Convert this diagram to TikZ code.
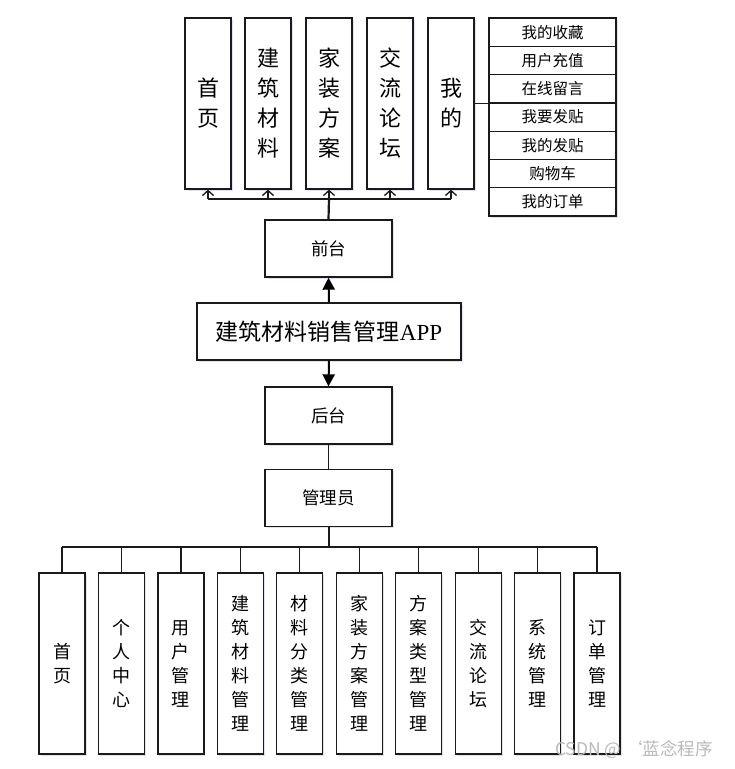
\documentclass[tikz,border=0pt]{standalone}
\usepackage{fontspec}
\setmainfont{Noto Sans CJK SC}
\newfontfamily\lserif{Liberation Serif}
\usetikzlibrary{arrows.meta,shadows}
\definecolor{ln}{HTML}{1A1A1A}
\tikzset{
  box/.style={draw=ln,line width=1.3pt,fill=white,inner sep=0pt,align=center,
    drop shadow={shadow xshift=1.5pt,shadow yshift=-1.5pt,opacity=.18,fill=blue!30!gray}},
  topbox/.style={box,minimum width=46pt,minimum height=171pt,font=\fontsize{22}{30}\selectfont},
  botbox/.style={box,minimum width=46pt,minimum height=181pt,font=\fontsize{18}{24}\selectfont},
  midbox/.style={box,minimum width=127pt,minimum height=57pt,font=\fontsize{17.5}{20}\selectfont},
  listbox/.style={box,minimum width=127pt,minimum height=28.3pt,font=\fontsize{15.5}{17}\selectfont},
  conn/.style={draw=ln,line width=1.3pt},
  barb/.style={conn,-{Straight Barb[length=5pt,width=11pt]}},
  bigarr/.style={draw=black,line width=2pt,-{Triangle[length=12pt,width=12pt]}}
}
\begin{document}
\begin{tikzpicture}[x=1pt,y=-1pt]
\useasboundingbox (0,0) rectangle (735,769);
% top boxes
\node[topbox] (t1) at (208,103.5) {首\\页};
\node[topbox] (t2) at (268,103.5) {建\\筑\\材\\料};
\node[topbox] (t3) at (329,103.5) {家\\装\\方\\案};
\node[topbox] (t4) at (390,103.5) {交\\流\\论\\坛};
\node[topbox] (t5) at (451,103.5) {我\\的};
% list
\node[listbox] (l1) at (552.5,32.15) {我的收藏};
\node[listbox] (l2) at (552.5,60.45) {用户充值};
\node[listbox] (l3) at (552.5,88.75) {在线留言};
\node[listbox] (l4) at (552.5,117.05) {我要发贴};
\node[listbox] (l5) at (552.5,145.35) {我的发贴};
\node[listbox] (l6) at (552.5,173.65) {购物车};
\node[listbox] (l7) at (552.5,201.95) {我的订单};
\draw[conn,line width=1.6pt] (t5.east) -- (t5.east -| l4.west);
% bus top
\coordinate (b1) at (208,199);
\coordinate (b2) at (268,199);
\coordinate (b3) at (329,199);
\coordinate (b4) at (390,199);
\coordinate (b5) at (451,199);
\draw[conn] (b1) -- (b5);
\foreach \i in {1,...,5} \draw[barb] (b\i) -- (t\i.south);
% middle
\node[midbox] (front) at (328.5,248.5) {前台};
\node[box,minimum width=264pt,minimum height=57pt,font=\fontsize{23}{26}\selectfont] (app) at (329,331.5) {建筑材料销售管理{\lserif APP}};
\node[midbox] (back) at (328.5,415.5) {后台};
\node[midbox] (admin) at (328.5,498) {管理员};
\draw[conn,line width=2.2pt] (front.north) -- (b3);
\draw[bigarr] (app.north) -- (front.south);
\draw[bigarr] (app.south) -- (back.north);
\draw[conn] (back.south) -- (admin.north);
% bottom
\coordinate (adm) at (328.5,547);
\draw[conn,line width=2pt] (admin.south) -- (adm);
\foreach \i/\t in {0/{首\\页},1/{个\\人\\中\\心},2/{用\\户\\管\\理},3/{建\\筑\\材\\料\\管\\理},4/{材\\料\\分\\类\\管\\理},5/{家\\装\\方\\案\\管\\理},6/{方\\案\\类\\型\\管\\理},7/{交\\流\\论\\坛},8/{系\\统\\管\\理},9/{订\\单\\管\\理}}{
  \node[botbox] (m\i) at ({62+59.45*\i},663.5) {\t};
  \coordinate (c\i) at ({62+59.45*\i},547);
  \draw[conn] (c\i) -- (m\i.north);
}
\draw[conn] (c0) -- (c9);
% watermark
\node[anchor=west,text=gray!55,font=\fontsize{17.5}{19}\selectfont,inner sep=0pt] (wm) at (555,750) {CSDN @ \symbol{96}蓝念程序};
\end{tikzpicture}
\end{document}
